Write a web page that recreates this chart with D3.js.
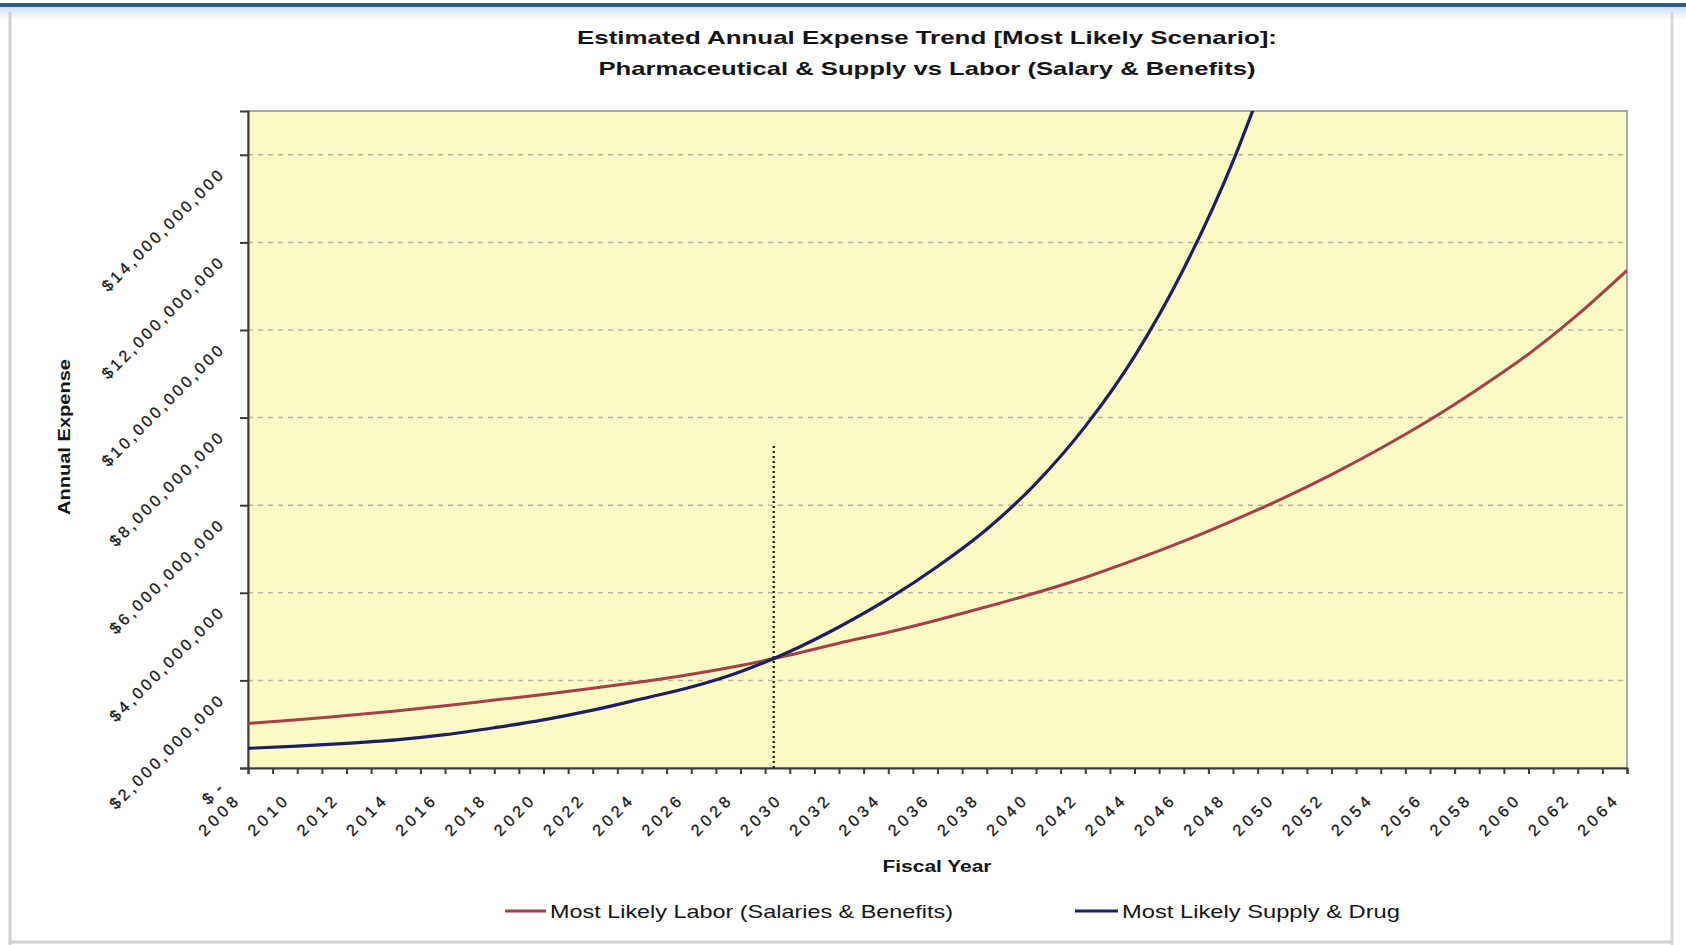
<!DOCTYPE html>
<html>
<head>
<meta charset="utf-8">
<script src="https://cdn.jsdelivr.net/npm/d3@7"></script>
<style>
  html, body { margin: 0; padding: 0; background: #ffffff; }
  svg { display: block; }
  text { font-family: "Liberation Sans", Arial, sans-serif; fill: #141414; }
</style>
</head>
<body>
<svg id="chart" width="1686" height="945"></svg>
<script>
// ---- Data (annual expense, US dollars) ----
const laborYears = [2008, 2010, 2012, 2014, 2016, 2018, 2020, 2022, 2024, 2026, 2028,
  2030, 2032, 2034, 2036, 2038, 2040, 2042, 2044, 2046, 2048, 2050, 2052, 2054, 2056,
  2058, 2060, 2062, 2064];
const laborValues = [1.02e9, 1.10e9, 1.20e9, 1.30e9, 1.42e9, 1.55e9, 1.68e9, 1.82e9, 1.97e9,
  2.14e9, 2.34e9, 2.58e9, 2.85e9, 3.10e9, 3.38e9, 3.68e9, 4.00e9, 4.35e9, 4.75e9, 5.18e9,
  5.65e9, 6.15e9, 6.70e9, 7.30e9, 7.95e9, 8.67e9, 9.45e9, 10.35e9, 11.36e9];

const supplyYears = [2008, 2010, 2012, 2014, 2016, 2018, 2020, 2022, 2024, 2026, 2028,
  2030, 2032, 2034, 2036, 2038, 2040, 2042, 2044, 2046, 2048, 2049];
const supplyValues = [0.45e9, 0.50e9, 0.56e9, 0.64e9, 0.76e9, 0.92e9, 1.10e9, 1.32e9, 1.58e9,
  1.85e9, 2.20e9, 2.66e9, 3.22e9, 3.86e9, 4.60e9, 5.45e9, 6.50e9, 7.80e9, 9.40e9, 11.40e9,
  13.85e9, 15.30e9];

// Crossover marker: year where supply overtakes labor, and the marker's top value
const crossoverYear = 2029.35;
const crossoverTop = 7.35e9;

const seriesNames = ["Most Likely Labor (Salaries & Benefits)", "Most Likely Supply & Drug"];
const seriesColors = ["#a53f48", "#1e1e62"];

const yTickValues = [0, 2e9, 4e9, 6e9, 8e9, 10e9, 12e9, 14e9];
const yTickLabels = ["$-", "$2,000,000,000", "$4,000,000,000", "$6,000,000,000",
  "$8,000,000,000", "$10,000,000,000", "$12,000,000,000", "$14,000,000,000"];
const xLabelYears = d3.range(2008, 2065, 2);

const titleLines = ["Estimated Annual Expense Trend [Most Likely Scenario]:",
  "Pharmaceutical & Supply vs Labor (Salary & Benefits)"];
const yAxisTitle = "Annual Expense";
const xAxisTitle = "Fiscal Year";

// ---- Layout ----
const plot = { left: 248, right: 1627, top: 111, bottom: 768 };

const svg = d3.select("#chart");

// Window-style frame
const defs = svg.append("defs");
const grad = defs.append("linearGradient").attr("id", "topFade")
  .attr("x1", 0).attr("y1", 0).attr("x2", 0).attr("y2", 1);
grad.append("stop").attr("offset", "0%").attr("stop-color", "#c9dcef");
grad.append("stop").attr("offset", "100%").attr("stop-color", "#ffffff");
svg.append("rect").attr("x", 0).attr("y", 6).attr("width", 1686).attr("height", 14)
  .attr("fill", "url(#topFade)");
svg.append("rect").attr("x", 0).attr("y", 3).attr("width", 1686).attr("height", 4)
  .attr("fill", "#2c5b8a");
svg.append("line").attr("x1", 10).attr("x2", 10).attr("y1", 12).attr("y2", 945)
  .attr("stroke", "#d0d0d0").attr("stroke-width", 3);
svg.append("line").attr("x1", 1672).attr("x2", 1672).attr("y1", 12).attr("y2", 945)
  .attr("stroke", "#d8d8d8").attr("stroke-width", 3);
svg.append("line").attr("x1", 10).attr("x2", 1672).attr("y1", 942).attr("y2", 942)
  .attr("stroke", "#cfcfcf").attr("stroke-width", 3);

// Scales
const x = d3.scaleLinear().domain([2008, 2064]).range([plot.left, plot.right]);
const y = d3.scaleLinear().domain([0, 15e9]).range([plot.bottom, plot.top]);

// Plot background
svg.append("rect")
  .attr("x", plot.left).attr("y", plot.top)
  .attr("width", plot.right - plot.left).attr("height", plot.bottom - plot.top)
  .attr("fill", "#fcfac4").attr("stroke", "#a8a8a0").attr("stroke-width", 2);

defs.append("clipPath").attr("id", "plotClip").append("rect")
  .attr("x", plot.left).attr("y", plot.top)
  .attr("width", plot.right - plot.left).attr("height", plot.bottom - plot.top);

// Horizontal gridlines
svg.append("g").selectAll("line").data(yTickValues.slice(1)).join("line")
  .attr("x1", plot.left).attr("x2", plot.right - 4)
  .attr("y1", d => y(d)).attr("y2", d => y(d))
  .attr("stroke", "#b4b2a0").attr("stroke-width", 1.5).attr("stroke-dasharray", "5,5");

// Y axis
const yAxis = svg.append("g").attr("transform", `translate(${plot.left},0)`)
  .call(d3.axisLeft(y).tickValues(yTickValues).tickFormat("").tickSizeOuter(0).tickSize(8));
yAxis.select(".domain").attr("stroke", "#3a3a3a").attr("stroke-width", 2);
yAxis.selectAll(".tick line").attr("stroke", "#3a3a3a").attr("stroke-width", 2);

// X axis: a tick every year
const xAxis = svg.append("g").attr("transform", `translate(0,${plot.bottom})`)
  .call(d3.axisBottom(x).tickValues(d3.range(2008, 2065)).tickFormat("").tickSizeOuter(0).tickSize(6));
xAxis.select(".domain").attr("stroke", "#3a3a3a").attr("stroke-width", 2);
xAxis.selectAll(".tick line").attr("stroke", "#3a3a3a").attr("stroke-width", 2);

// Y tick labels, rotated
svg.append("g").selectAll("text").data(yTickValues).join("text")
  .attr("transform", d => `translate(${plot.left - 28},${y(d) + 18}) rotate(-45)`)
  .attr("text-anchor", "end").attr("dy", "0.35em")
  .attr("font-size", 16)
  .attr("stroke", "#141414").attr("stroke-width", 0.3)
  .attr("textLength", (d, i) => yTickLabels[i].length * 10.9)
  .attr("lengthAdjust", "spacing")
  .text((d, i) => yTickLabels[i]);

// X tick labels, rotated
svg.append("g").selectAll("text").data(xLabelYears).join("text")
  .attr("transform", d => `translate(${x(d) - 13},${plot.bottom + 31}) rotate(-45)`)
  .attr("text-anchor", "end").attr("dy", "0.35em")
  .attr("font-size", 16)
  .attr("stroke", "#141414").attr("stroke-width", 0.3)
  .attr("textLength", 48).attr("lengthAdjust", "spacing")
  .text(d => d);

// Lines
const lineGen = d3.line().x(d => x(d[0])).y(d => y(d[1])).curve(d3.curveMonotoneX);
const plotG = svg.append("g").attr("clip-path", "url(#plotClip)");

// Crossover marker
plotG.append("line")
  .attr("x1", x(crossoverYear)).attr("x2", x(crossoverYear))
  .attr("y1", y(0)).attr("y2", y(crossoverTop))
  .attr("stroke", "#111").attr("stroke-width", 2.2).attr("stroke-dasharray", "2,3");

plotG.append("path")
  .datum(laborYears.map((yr, i) => [yr, laborValues[i]]))
  .attr("d", lineGen).attr("fill", "none")
  .attr("stroke", seriesColors[0]).attr("stroke-width", 3);

plotG.append("path")
  .datum(supplyYears.map((yr, i) => [yr, supplyValues[i]]))
  .attr("d", lineGen).attr("fill", "none")
  .attr("stroke", seriesColors[1]).attr("stroke-width", 3.2);

// Titles
svg.append("g").selectAll("text").data(titleLines).join("text")
  .attr("x", 927).attr("y", (d, i) => 37 + i * 31.5)
  .attr("text-anchor", "middle").attr("dominant-baseline", "central")
  .attr("font-size", 19).attr("font-weight", "bold")
  .attr("textLength", (d, i) => [700, 657][i]).attr("lengthAdjust", "spacingAndGlyphs")
  .text(d => d);

svg.append("text")
  .attr("transform", "translate(64,437) rotate(-90)")
  .attr("text-anchor", "middle").attr("dominant-baseline", "central")
  .attr("font-size", 16).attr("font-weight", "bold")
  .attr("textLength", 156).attr("lengthAdjust", "spacingAndGlyphs")
  .text(yAxisTitle);

svg.append("text")
  .attr("x", 937).attr("y", 866)
  .attr("text-anchor", "middle").attr("dominant-baseline", "central")
  .attr("font-size", 16).attr("font-weight", "bold")
  .attr("textLength", 109).attr("lengthAdjust", "spacingAndGlyphs")
  .text(xAxisTitle);

// Legend
const legendItems = [
  { x: 505, w: 41, textLen: 403 },
  { x: 1075, w: 43, textLen: 278 }
];
const legend = svg.append("g").selectAll("g").data(legendItems).join("g");
legend.append("line")
  .attr("x1", d => d.x).attr("x2", d => d.x + d.w)
  .attr("y1", 911).attr("y2", 911)
  .attr("stroke", (d, i) => seriesColors[i]).attr("stroke-width", 3);
legend.append("text")
  .attr("x", d => d.x + d.w + 4).attr("y", 911)
  .attr("dominant-baseline", "central")
  .attr("font-size", 19).attr("fill", "#333")
  .attr("textLength", d => d.textLen).attr("lengthAdjust", "spacingAndGlyphs")
  .text((d, i) => seriesNames[i]);
</script>
</body>
</html>
